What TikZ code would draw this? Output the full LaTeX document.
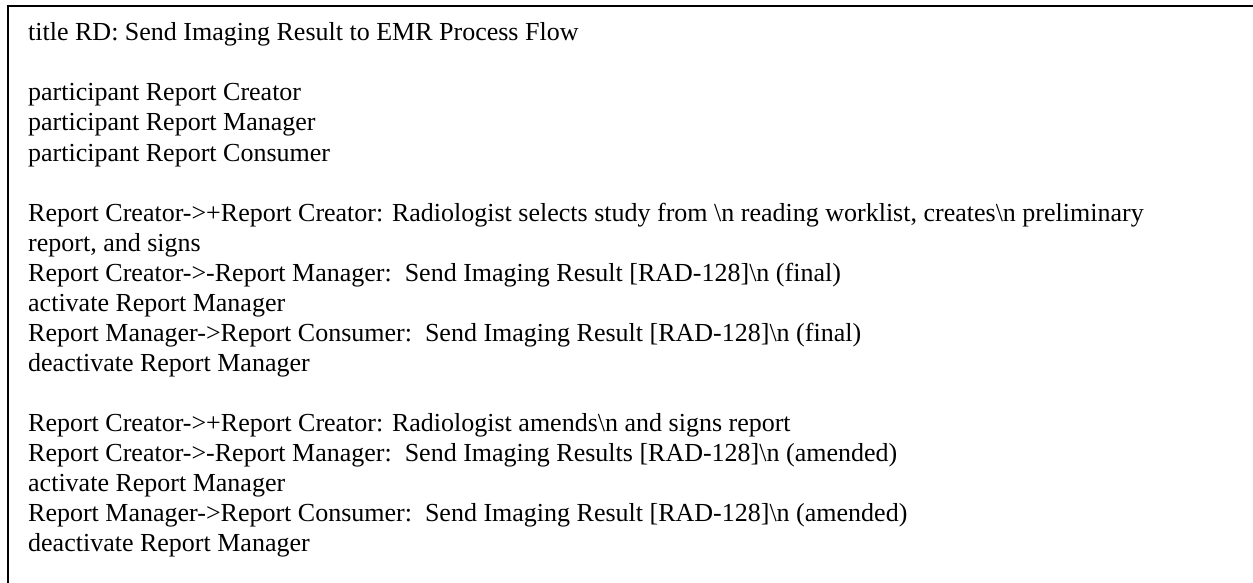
\documentclass[tikz,border=0pt]{standalone}
\usepackage{fontspec}
\setmainfont{Liberation Serif}
\newcommand{\bsn}{\textbackslash n}
\begin{document}
\begin{tikzpicture}[x=1pt,y=-1pt,
  txt/.style={anchor=base west,inner sep=0pt,font=\fontsize{26}{30}\selectfont},
  frame/.style={line width=2pt,black}]
\useasboundingbox (0,0) rectangle (1253,583);
\coordinate (tl) at (8,6);
\coordinate (tr) at (1253,6);
\coordinate (bl) at (8,583);
\draw[frame] (tr) -- (tl) -- (bl);
\def\X{28}
\node[txt] (l1) at (\X,41) {title RD: Send Imaging Result to EMR Process Flow};
\node[txt] (l3) at (\X,101) {participant Report Creator};
\node[txt] (l4) at (\X,131) {participant Report Manager};
\node[txt] (l5) at (\X,161) {participant Report Consumer};
\node[txt] (l7) at (\X,221) {Report Creator->+Report Creator: Radiologist selects study from \bsn{} reading worklist, creates\bsn{} preliminary};
\node[txt] (l8) at (\X,251) {report, and signs};
\node[txt] (l9) at (\X,281) {Report Creator->-Report Manager:\ \ Send Imaging Result [RAD-128]\bsn{} (final)};
\node[txt] (l10) at (\X,311) {activate Report Manager};
\node[txt] (l11) at (\X,341) {Report Manager->Report Consumer:\ \ Send Imaging Result [RAD-128]\bsn{} (final)};
\node[txt] (l12) at (\X,371) {deactivate Report Manager};
\node[txt] (l14) at (\X,431) {Report Creator->+Report Creator: Radiologist amends\bsn{} and signs report};
\node[txt] (l15) at (\X,461) {Report Creator->-Report Manager:\ \ Send Imaging Results [RAD-128]\bsn{} (amended)};
\node[txt] (l16) at (\X,491) {activate Report Manager};
\node[txt] (l17) at (\X,521) {Report Manager->Report Consumer:\ \ Send Imaging Result [RAD-128]\bsn{} (amended)};
\node[txt] (l18) at (\X,551) {deactivate Report Manager};
\end{tikzpicture}
\end{document}
